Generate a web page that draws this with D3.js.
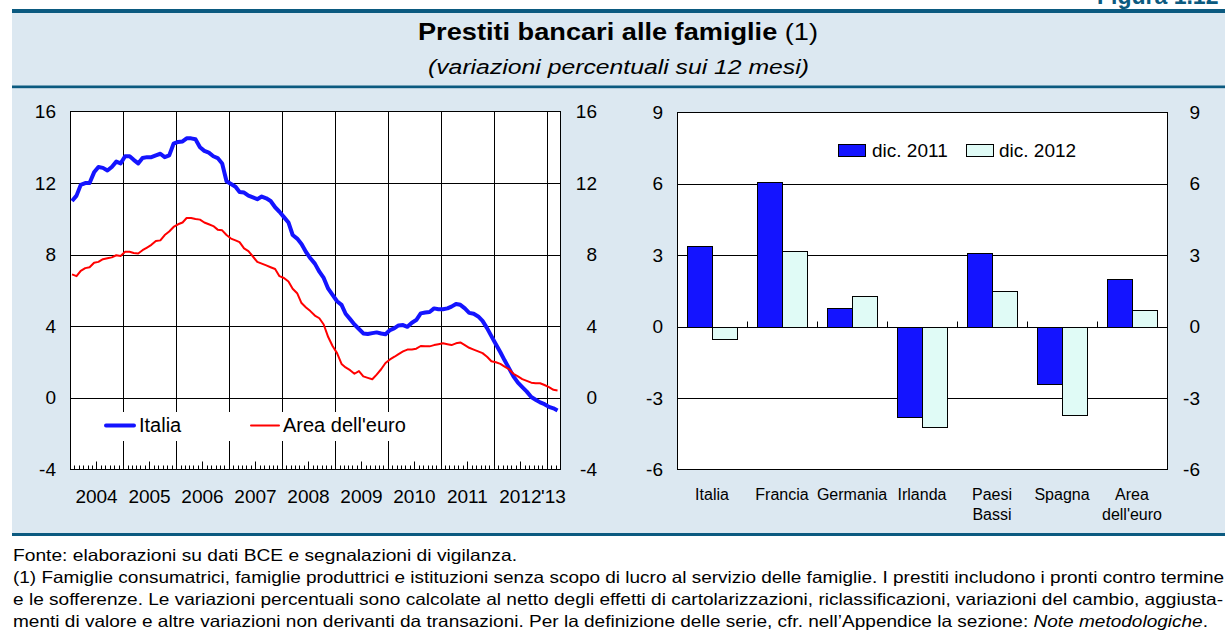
<!DOCTYPE html>
<html><head><meta charset="utf-8">
<script src="https://cdn.jsdelivr.net/npm/d3@7"></script>
<style>
body{margin:0;background:#fff}
svg{display:block}
text{font-family:"Liberation Sans",Arial,Helvetica,sans-serif;fill:#000}
</style>
</head><body>
<svg id="c" width="1225" height="636"></svg>
<script>
// ---------- DATA ----------
// Left chart: monthly % changes, Jan 2004 .. Mar 2013
const startYear = 2004;
const italia = [
 11.0,11.3,11.9,12.0,12.0,12.6,12.9,12.85,12.7,12.9,13.2,13.1,
 13.5,13.5,13.3,13.1,13.4,13.45,13.45,13.55,13.64,13.45,13.55,14.2,
 14.3,14.33,14.5,14.5,14.45,14.0,13.8,13.7,13.5,13.4,13.1,12.1,
 11.95,11.8,11.5,11.47,11.3,11.2,11.1,11.25,11.15,11.0,10.65,10.4,
 10.1,9.8,9.1,8.9,8.6,8.15,7.8,7.5,7.05,6.7,6.1,5.75,
 5.4,5.2,4.7,4.4,4.1,3.85,3.6,3.57,3.62,3.66,3.6,3.56,
 3.79,3.9,4.05,4.07,3.97,4.2,4.35,4.72,4.77,4.8,5.0,4.95,
 4.95,5.0,5.1,5.25,5.2,5.0,4.75,4.7,4.55,4.3,3.9,3.45,
 3.0,2.55,2.1,1.65,1.2,0.85,0.6,0.35,0.05,-0.1,-0.25,-0.35,
 -0.5,-0.58,-0.7
];
const areaEuro = [
 6.9,6.8,7.1,7.25,7.3,7.55,7.6,7.75,7.8,7.85,7.97,7.93,
 8.16,8.16,8.1,8.07,8.25,8.4,8.55,8.77,8.8,9.1,9.3,9.55,
 9.7,9.8,10.05,10.05,10.0,9.96,9.8,9.7,9.6,9.4,9.36,9.1,
 8.9,8.8,8.7,8.35,8.2,7.9,7.6,7.5,7.4,7.3,7.2,6.8,
 6.7,6.5,6.1,5.85,5.3,5.05,4.85,4.6,4.45,4.1,3.4,2.9,
 2.5,1.9,1.7,1.55,1.35,1.5,1.2,1.12,1.04,1.3,1.6,1.95,
 2.15,2.3,2.45,2.6,2.7,2.71,2.75,2.9,2.88,2.88,2.95,3.0,
 3.05,3.0,2.95,3.05,3.1,2.95,2.8,2.7,2.6,2.5,2.3,2.05,
 1.99,1.9,1.75,1.6,1.35,1.2,1.05,0.95,0.85,0.82,0.82,0.72,
 0.6,0.45,0.41
];
const yearLabels = ["2004","2005","2006","2007","2008","2009","2010","2011","2012","'13"];
const leftTicks = [-4,0,4,8,12,16];
const lineSeries = ["Italia","Area dell'euro"];

// Right chart
const countries = ["Italia","Francia","Germania","Irlanda","Paesi\nBassi","Spagna","Area\ndell'euro"];
const dic2011 = [3.4,6.1,0.8,-3.8,3.1,-2.4,2.0];
const dic2012 = [-0.5,3.2,1.3,-4.2,1.5,-3.7,0.7];
const barSeries = ["dic. 2011","dic. 2012"];
const rightTicks = [-6,-3,0,3,6,9];

// Texts
const figLabel = "Figura 1.12";
const titleMain = "Prestiti bancari alle famiglie";
const titleNote = " (1)";
const subtitle = "(variazioni percentuali sui 12 mesi)";
const notes = [
 "Fonte: elaborazioni su dati BCE e segnalazioni di vigilanza.",
 "(1) Famiglie consumatrici, famiglie produttrici e istituzioni senza scopo di lucro al servizio delle famiglie. I prestiti includono i pronti contro termine",
 "e le sofferenze. Le variazioni percentuali sono calcolate al netto degli effetti di cartolarizzazioni, riclassificazioni, variazioni del cambio, aggiusta-",
 "menti di valore e altre variazioni non derivanti da transazioni. Per la definizione delle serie, cfr. nell\u2019Appendice la sezione: "
];
const notesItalic = "Note metodologiche";

// ---------- STYLE ----------
const darkBlue = "#0b5a80", panel = "#dce8f1";
const blue = "#1414ff", red = "#ff0000", light = "#e0fbf6";
const fmt = d => String(d);

const svg = d3.select("#c");
const W = 1225;

// header & panel
svg.append("rect").attr("x",12).attr("y",13).attr("width",W-12).attr("height",520).attr("fill",panel);
svg.append("rect").attr("x",12).attr("y",9).attr("width",W-12).attr("height",4).attr("fill",darkBlue);
svg.append("rect").attr("x",12).attr("y",85.5).attr("width",W-12).attr("height",2.7).attr("fill",darkBlue);
svg.append("rect").attr("x",12).attr("y",533).attr("width",W-12).attr("height",3).attr("fill",darkBlue);

svg.append("text").attr("x",1097).attr("y",4).style("font-size","23px").style("font-weight","bold")
  .style("fill",darkBlue).text(figLabel);

const t = svg.append("text").attr("x",418).attr("y",40).style("font-size","24px")
  .attr("textLength",400).attr("lengthAdjust","spacingAndGlyphs");
t.append("tspan").style("font-weight","bold").text(titleMain);
t.append("tspan").text(titleNote);
svg.append("text").attr("x",428).attr("y",73.5).style("font-size","20px").style("font-style","italic")
  .attr("textLength",381).attr("lengthAdjust","spacingAndGlyphs").text(subtitle);

// ---------- LEFT CHART ----------
const L = {x0:70, x1:560, y0:111.5, y1:469.5};
const xL = d3.scaleTime().domain([new Date(2004,0,1), new Date(2013,3,1)]).range([L.x0, L.x1]);
const yL = d3.scaleLinear().domain([-4,16]).range([L.y1, L.y0]);
const gL = svg.append("g");
gL.append("rect").attr("x",L.x0+0.5).attr("y",L.y0).attr("width",L.x1-L.x0).attr("height",L.y1-L.y0)
  .attr("fill","#fff");

// horizontal gridlines
gL.selectAll("line.hg").data(leftTicks.filter(v=>v>-4 && v<16)).join("line")
  .attr("x1",L.x0).attr("x2",L.x1).attr("y1",d=>Math.round(yL(d))+0.5).attr("y2",d=>Math.round(yL(d))+0.5)
  .attr("stroke","#000").attr("stroke-width",1);
// year gridlines
const yearStarts = d3.timeYear.range(new Date(2005,0,1), new Date(2013,1,1));
gL.selectAll("line.vg").data(yearStarts).join("line")
  .attr("x1",d=>Math.round(xL(d))+0.5).attr("x2",d=>Math.round(xL(d))+0.5)
  .attr("y1",L.y0).attr("y2",L.y1).attr("stroke","#000").attr("stroke-width",1);
// minor month ticks
const months = d3.timeMonth.range(new Date(2004,1,1), new Date(2013,3,1)).filter(d=>d.getMonth()!==0);
gL.selectAll("line.mt").data(months).join("line")
  .attr("x1",d=>Math.round(xL(d))+0.5).attr("x2",d=>Math.round(xL(d))+0.5)
  .attr("y1",L.y1).attr("y2",d=>L.y1-(d.getMonth()===6?8:4)).attr("stroke","#000").attr("stroke-width",1);

// legend box (white)
gL.append("rect").attr("x",71).attr("y",412).attr("width",344).attr("height",29).attr("fill","#fff");

// frame
gL.append("rect").attr("x",L.x0+0.5).attr("y",L.y0).attr("width",L.x1-L.x0).attr("height",L.y1-L.y0)
  .attr("fill","none").attr("stroke","#000").attr("stroke-width",1);

// lines
const toPts = arr => arr.map((v,i)=>({date:new Date(startYear, i, 15), v}));
const line = d3.line().x(d=>xL(d.date)).y(d=>yL(d.v));
gL.append("path").datum(toPts(italia)).attr("d",line).attr("fill","none")
  .attr("stroke",blue).attr("stroke-width",4).attr("stroke-linejoin","round");
gL.append("path").datum(toPts(areaEuro)).attr("d",line).attr("fill","none")
  .attr("stroke",red).attr("stroke-width",2).attr("stroke-linejoin","round");

// left axis labels
const axL = gL.append("g").attr("transform",`translate(${L.x0},0)`)
  .call(d3.axisLeft(yL).tickValues(leftTicks).tickSize(0).tickPadding(14).tickFormat(fmt));
axL.select(".domain").remove();
axL.selectAll("text").style("font-size","19px").style("font-family","'Liberation Sans',Arial,sans-serif");
const axR = gL.append("g").attr("transform",`translate(${L.x1},0)`)
  .call(d3.axisRight(yL).tickValues(leftTicks).tickSize(0).tickPadding(37).tickFormat(fmt));
axR.select(".domain").remove();
axR.selectAll("text").attr("text-anchor","end").style("font-size","19px").style("font-family","'Liberation Sans',Arial,sans-serif");

// year labels
const yearMid = yearLabels.map((lab,i)=>{
  const a = new Date(startYear+i,0,1), b = d3.min([new Date(startYear+i+1,0,1), xL.domain()[1]]);
  return {lab, x:(xL(a)+xL(b))/2};
});
gL.selectAll("text.yr").data(yearMid).join("text")
  .attr("x",d=>d.x).attr("y",503).attr("text-anchor","middle").style("font-size","19px").text(d=>d.lab);

// line legend
const legL = [{name:lineSeries[0],x1:106,x2:134,tx:139,c:blue,w:4},{name:lineSeries[1],x1:251,x2:279,tx:283,c:red,w:2}];
legL.forEach(d=>{
  gL.append("line").attr("x1",d.x1).attr("x2",d.x2).attr("y1",425.5).attr("y2",425.5)
    .attr("stroke",d.c).attr("stroke-width",d.w).attr("stroke-linecap","round");
  gL.append("text").attr("x",d.tx).attr("y",432).style("font-size","20px").text(d.name);
});

// ---------- RIGHT CHART ----------
const R = {x0:677, x1:1167, y0:112.5, y1:469.5};
const xR = d3.scaleBand().domain(countries).range([R.x0, R.x1]);
const yR = d3.scaleLinear().domain([-6,9]).range([R.y1, R.y0]);
const gR = svg.append("g");
gR.append("rect").attr("x",R.x0+0.5).attr("y",R.y0).attr("width",R.x1-R.x0).attr("height",R.y1-R.y0).attr("fill","#fff");
gR.selectAll("line.hg").data(rightTicks.filter(v=>v>-6 && v<9)).join("line")
  .attr("x1",R.x0).attr("x2",R.x1).attr("y1",d=>Math.round(yR(d))+0.5).attr("y2",d=>Math.round(yR(d))+0.5)
  .attr("stroke","#000").attr("stroke-width",1);
const y0R = Math.round(yR(0))+0.5;
gR.selectAll("line.ct").data(countries.slice(1)).join("line")
  .attr("x1",d=>Math.round(xR(d))+0.5).attr("x2",d=>Math.round(xR(d))+0.5)
  .attr("y1",y0R).attr("y2",y0R-6).attr("stroke","#000");

const bw = xR.bandwidth()*0.357;
const barData = [];
countries.forEach((c,i)=>{
  barData.push({c, v:dic2011[i], off:-bw, fill:blue});
  barData.push({c, v:dic2012[i], off:0, fill:light});
});
gR.selectAll("rect.bar").data(barData).join("rect")
  .attr("x",d=>Math.round(xR(d.c)+xR.bandwidth()/2+d.off)+0.5)
  .attr("y",d=>Math.round(Math.min(yR(d.v),yR(0)))+0.5)
  .attr("width",Math.round(bw))
  .attr("height",d=>Math.round(Math.abs(yR(d.v)-yR(0))))
  .attr("fill",d=>d.fill).attr("stroke","#000").attr("stroke-width",1);

gR.append("rect").attr("x",R.x0+0.5).attr("y",R.y0).attr("width",R.x1-R.x0).attr("height",R.y1-R.y0)
  .attr("fill","none").attr("stroke","#000");

const ayl = gR.append("g").attr("transform",`translate(${R.x0},0)`)
  .call(d3.axisLeft(yR).tickValues(rightTicks).tickSize(0).tickPadding(14).tickFormat(fmt));
ayl.select(".domain").remove();
ayl.selectAll("text").style("font-size","19px").style("font-family","'Liberation Sans',Arial,sans-serif");
const ayr = gR.append("g").attr("transform",`translate(${R.x1},0)`)
  .call(d3.axisRight(yR).tickValues(rightTicks).tickSize(0).tickPadding(33).tickFormat(fmt));
ayr.select(".domain").remove();
ayr.selectAll("text").attr("text-anchor","end").style("font-size","19px").style("font-family","'Liberation Sans',Arial,sans-serif");

// category labels
gR.selectAll("text.cat").data(countries).join("text")
  .attr("text-anchor","middle").style("font-size","16px")
  .each(function(d){
    const cx = xR(d)+xR.bandwidth()/2;
    d.split("\n").forEach((s,k)=>{
      d3.select(this).append("tspan").attr("x",cx).attr("y",500+k*20).text(s);
    });
  });

// bar legend
const legR = [{name:barSeries[0],x:838.5,tx:872,fill:blue},{name:barSeries[1],x:966.5,tx:999,fill:light}];
legR.forEach(d=>{
  gR.append("rect").attr("x",d.x).attr("y",144.5).attr("width",27).attr("height",12)
    .attr("fill",d.fill).attr("stroke","#000");
  gR.append("text").attr("x",d.tx).attr("y",157).style("font-size","19px").text(d.name);
});

// ---------- NOTES ----------
const noteY = [561,583,605,627];
const noteLen = [504,1211,1210,1195];
notes.forEach((s,i)=>{
  const tx = svg.append("text").attr("x",13).attr("y",noteY[i]).style("font-size","16.5px")
    .attr("textLength",noteLen[i]).attr("lengthAdjust","spacingAndGlyphs");
  tx.append("tspan").text(s);
  if(i===3){
    tx.append("tspan").style("font-style","italic").text(notesItalic);
    tx.append("tspan").text(".");
  }
});
</script>
</body></html>
